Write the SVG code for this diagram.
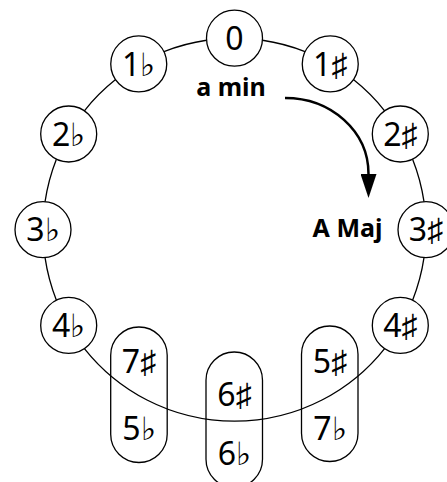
<svg xmlns="http://www.w3.org/2000/svg" width="447" height="482" viewBox="0 0 447 482">
  <style>
    .node { fill: #fff; stroke: #000; stroke-width: 1.3; }
    .pill { fill: none; stroke: #000; stroke-width: 1.3; }
    .conn { fill: none; stroke: #000; stroke-width: 1.3; }
    .t { font-family: "Noto Sans", sans-serif; font-size: 32px; fill: #000; text-anchor: middle; }
    .lbl { font-family: "Noto Sans", sans-serif; font-size: 25px; font-weight: bold; fill: #000; text-anchor: middle; }
    .arrow { fill: none; stroke: #000; stroke-width: 2.5; }
  </style>
  <defs>
    <marker id="head" viewBox="0 0 24 16" refX="0" refY="8" markerWidth="24" markerHeight="16" markerUnits="userSpaceOnUse" orient="auto">
      <path d="M0,0 L24,8 L0,16 Z" fill="#000"/>
    </marker>
  </defs>
  <rect x="0" y="0" width="447" height="482" fill="#fff"/>

  <g id="pill-7s-5b">
    <rect class="pill" x="110.7" y="327" width="56.5" height="135.5" rx="28.25"/>
    <text class="t" x="139" y="372.5">7<tspan>♯</tspan></text>
    <text class="t" x="139" y="439.5">5<tspan>♭</tspan></text>
  </g>
  <g id="pill-6s-6b">
    <rect class="pill" x="206" y="352" width="56.5" height="135.5" rx="28.25"/>
    <text class="t" x="234.5" y="405.5">6<tspan>♯</tspan></text>
    <text class="t" x="234.5" y="464.5">6<tspan>♭</tspan></text>
  </g>
  <g id="pill-5s-7b">
    <rect class="pill" x="301.5" y="326" width="56.5" height="135.5" rx="28.25"/>
    <text class="t" x="330" y="372.5">5<tspan>♯</tspan></text>
    <text class="t" x="330" y="439.5">7<tspan>♭</tspan></text>
  </g>

  <g id="connectors">
    <path class="conn" d="M262.5,40.25 A191.5,191.5 0 0 1 305.0,51.6"/>
    <path class="conn" d="M353.4,79.6 A191.5,191.5 0 0 1 384.6,110.8"/>
    <path class="conn" d="M412.6,159.2 A191.5,191.5 0 0 1 424.0,201.7"/>
    <path class="conn" d="M424.0,257.7 A191.5,191.5 0 0 1 412.6,300.2"/>
    <path class="conn" d="M384.6,348.6 A191.5,191.5 0 0 1 84.4,348.6"/>
    <path class="conn" d="M56.4,300.2 A191.5,191.5 0 0 1 45.05,257.7"/>
    <path class="conn" d="M45.05,201.7 A191.5,191.5 0 0 1 56.4,159.2"/>
    <path class="conn" d="M84.4,110.8 A191.5,191.5 0 0 1 115.6,79.6"/>
    <path class="conn" d="M164.0,51.6 A191.5,191.5 0 0 1 206.5,40.25"/>
    <path class="arrow" d="M285,98 C331,98 368.5,131 368.5,174" marker-end="url(#head)"/>
  </g>

  <g id="node-0">
    <circle class="node" cx="234.5" cy="38.2" r="28"/>
    <text class="t" x="234.5" y="50">0</text>
  </g>
  <g id="node-1s">
    <circle class="node" cx="330.25" cy="63.9" r="28"/>
    <text class="t" x="330.25" y="75.5">1<tspan>♯</tspan></text>
  </g>
  <g id="node-2s">
    <circle class="node" cx="400.3" cy="134" r="28"/>
    <text class="t" x="400.3" y="145.5">2<tspan>♯</tspan></text>
  </g>
  <g id="node-3s">
    <circle class="node" cx="426" cy="229.7" r="28"/>
    <text class="t" x="426" y="241">3<tspan>♯</tspan></text>
  </g>
  <g id="node-4s">
    <circle class="node" cx="400.3" cy="325.4" r="28"/>
    <text class="t" x="400.3" y="337">4<tspan>♯</tspan></text>
  </g>
  <g id="node-4b">
    <circle class="node" cx="68.7" cy="325.4" r="28"/>
    <text class="t" x="68.7" y="337">4<tspan>♭</tspan></text>
  </g>
  <g id="node-3b">
    <circle class="node" cx="43" cy="229.7" r="28"/>
    <text class="t" x="43" y="241">3<tspan>♭</tspan></text>
  </g>
  <g id="node-2b">
    <circle class="node" cx="68.7" cy="134" r="28"/>
    <text class="t" x="68.7" y="145.5">2<tspan>♭</tspan></text>
  </g>
  <g id="node-1b">
    <circle class="node" cx="138.75" cy="63.9" r="28"/>
    <text class="t" x="138.75" y="75.5">1<tspan>♭</tspan></text>
  </g>

  <g id="label-amin">
    <text class="lbl" x="231" y="96">a min</text>
  </g>
  <g id="label-amaj">
    <text class="lbl" x="347.5" y="237">A Maj</text>
  </g>
</svg>
